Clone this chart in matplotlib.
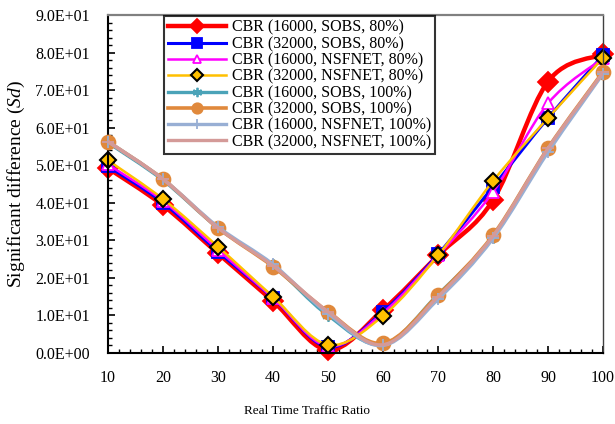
import numpy as np
import matplotlib
matplotlib.use("Agg")
import matplotlib.pyplot as plt
from matplotlib.path import Path
from matplotlib.patches import PathPatch
from matplotlib.lines import Line2D
from matplotlib.ticker import MultipleLocator, FuncFormatter

plt.rcParams['font.family'] = ['Liberation Serif', 'DejaVu Serif']
plt.rcParams['mathtext.fontset'] = 'custom'
plt.rcParams['mathtext.rm'] = 'Liberation Serif'
plt.rcParams['mathtext.it'] = 'Liberation Serif:italic'

# traffic ratio
ratio = [10, 20, 30, 40, 50, 60, 70, 80, 90, 100]

labels = ['CBR (16000, SOBS, 80%)', 'CBR (32000, SOBS, 80%)',
          'CBR (16000, NSFNET, 80%)', 'CBR (32000, NSFNET, 80%)',
          'CBR (16000, SOBS, 100%)', 'CBR (32000, SOBS, 100%)',
          'CBR (16000, NSFNET, 100%)', 'CBR (32000, NSFNET, 100%)']

sobs16_80 = [49.2, 39.3, 26.5, 13.8, 0.8, 11.5, 26.0, 40.7, 72.3, 79.5]
sobs32_80 = [49.7, 40.0, 27.0, 14.7, 1.6, 11.0, 26.3, 44.3, 62.6, 79.3]
nsf16_80 = [50.2, 40.5, 27.5, 14.7, 1.8, 10.7, 26.0, 42.9, 66.5, 78.5]
nsf32_80 = [51.3, 41.0, 28.3, 15.0, 2.2, 9.9, 26.0, 45.8, 62.6, 78.6]
sobs16_100 = [56.0, 46.0, 33.3, 23.3, 10.0, 2.3, 15.6, 31.0, 54.3, 74.6]
sobs32_100 = [56.3, 46.3, 33.3, 23.0, 11.0, 2.6, 15.4, 31.4, 54.6, 74.9]
nsf16_100 = [56.3, 46.3, 33.6, 23.6, 10.5, 2.0, 14.3, 30.5, 53.5, 74.4]
nsf32_100 = [56.3, 46.3, 33.3, 23.2, 11.0, 2.2, 15.0, 31.2, 54.5, 74.7]

series = [sobs16_80, sobs32_80, nsf16_80, nsf32_80,
          sobs16_100, sobs32_100, nsf16_100, nsf32_100]

# style per series: color, linewidth, marker, markersize, face, edge
styles = [
    ('#FF0000', 3.2, 'D', 10, '#FF0000', '#FF0000'),
    ('#0000FF', 2.2, 's', 9, '#0000FF', '#0000FF'),
    ('#FF00FF', 1.8, '^', 8, 'white', '#FF00FF'),
    ('#FFC000', 1.8, 'D', 8, '#FFC000', 'black'),
    ('#4BA3B8', 2.4, (6, 2, 0), 9, '#4BA3B8', '#4BA3B8'),
    ('#E0893C', 2.6, 'o', 10, '#E0893C', '#E0893C'),
    ('#98AFD4', 2.4, '+', 9, '#98AFD4', '#98AFD4'),
    ('#D49A98', 2.4, '_', 8, '#D49A98', '#D49A98'),
]


def smooth_path(x, y):
    # bezier segments through the points (excel-like smoothed line)
    x = np.asarray(x, float)
    y = np.asarray(y, float)
    n = len(x)
    verts = [(x[0], y[0])]
    codes = [Path.MOVETO]
    for i in range(n - 1):
        x0, y0 = (x[i - 1], y[i - 1]) if i > 0 else (x[i], y[i])
        x3, y3 = (x[i + 2], y[i + 2]) if i + 2 < n else (x[i + 1], y[i + 1])
        c1 = (x[i] + (x[i + 1] - x0) / 6, y[i] + (y[i + 1] - y0) / 6)
        c2 = (x[i + 1] - (x3 - x[i]) / 6, y[i + 1] - (y3 - y[i]) / 6)
        verts += [c1, c2, (x[i + 1], y[i + 1])]
        codes += [Path.CURVE4] * 3
    return Path(verts, codes)


fig = plt.figure(figsize=(6.15, 4.24), dpi=100)
ax = fig.add_axes([0.1756, 0.1675, 0.805, 0.797])

handles = []
for i, (vals, lab, st) in enumerate(zip(series, labels, styles)):
    color, lw, mk, ms, fc, ec = st
    patch = PathPatch(smooth_path(ratio, vals), facecolor='none', edgecolor=color,
                      lw=lw, zorder=2 + i * 0.1, capstyle='round', joinstyle='round')
    ax.add_patch(patch)
    mew = 1.5 if mk in ('D',) and ec == 'black' else 1.3
    ax.plot(ratio, vals, linestyle='none', marker=mk, ms=ms, mfc=fc, mec=ec,
            mew=mew, zorder=2.05 + i * 0.1, clip_on=False)
    handles.append(Line2D([], [], color=color, lw=lw, marker=mk, ms=ms * 0.75,
                          mfc=fc, mec=ec, mew=mew, label=lab))

ax.set_xlim(10, 100)
ax.set_ylim(0, 90)
ax.xaxis.set_major_locator(MultipleLocator(10))
ax.xaxis.set_minor_locator(MultipleLocator(2))
ax.yaxis.set_major_locator(MultipleLocator(10))
ax.yaxis.set_minor_locator(MultipleLocator(2))
ax.yaxis.set_major_formatter(FuncFormatter(lambda v, p: '{:.1E}'.format(v)))
ax.tick_params(which='both', direction='in', labelsize=11.5, top=False, right=False)
ax.tick_params(which='major', length=5, width=1.2)
ax.tick_params(which='minor', length=3, width=1.0)
ax.tick_params(axis='x', pad=12)
ax.tick_params(axis='y', pad=13)

for side in ('left', 'bottom'):
    ax.spines[side].set_linewidth(1.5)
    ax.spines[side].set_color('black')
ax.spines['top'].set_color('#808080')
ax.spines['top'].set_linewidth(1.6)
ax.spines['right'].set_color('#404040')
ax.spines['right'].set_linewidth(1.0)

ax.set_ylabel(r'Significant difference ($\mathit{Sd}$)', fontsize=14, labelpad=6)
fig.text(0.5, 0.03, 'Real Time Traffic Ratio', ha='center', va='center', fontsize=9.5)

leg = ax.legend(handles=handles, loc='upper left', bbox_to_anchor=(0.112, 1.0),
                fontsize=11.5, frameon=True, fancybox=False, handlelength=3.6,
                handletextpad=0.4, borderpad=0.25, labelspacing=0.02,
                borderaxespad=0.05)
leg.get_frame().set_edgecolor('black')
leg.get_frame().set_linewidth(1.5)
leg.set_zorder(10)

fig.savefig('out.png', dpi=100)
